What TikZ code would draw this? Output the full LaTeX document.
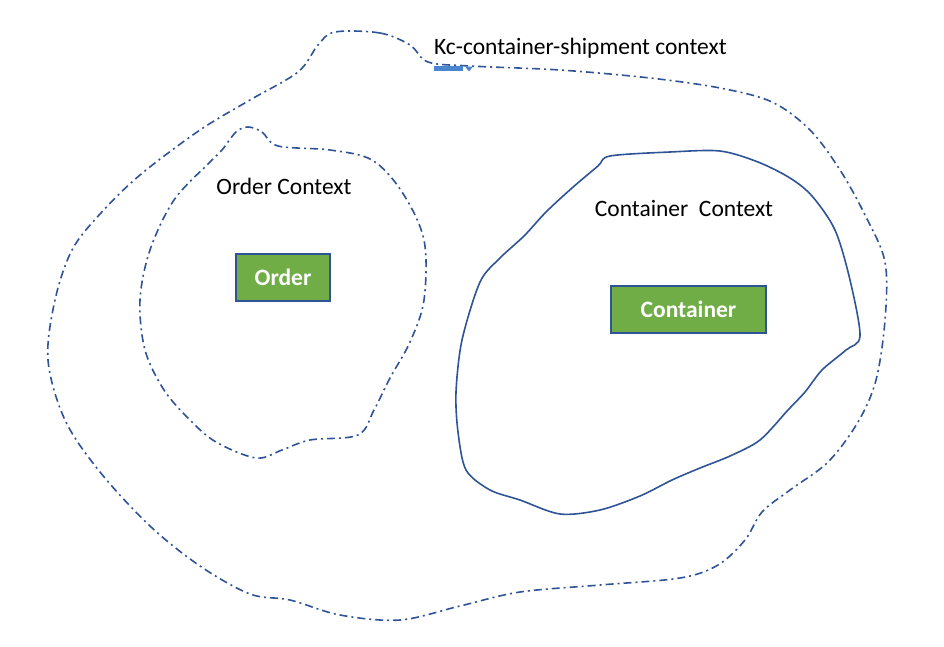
\documentclass[tikz,border=0pt]{standalone}
\usepackage{fontspec}
\setmainfont{Carlito}
\definecolor{LoopBlue}{HTML}{2F5496}
\definecolor{BoxGreen}{HTML}{70AD47}
\definecolor{MarkBlue}{HTML}{4A86D0}

\tikzset{
  dashdot/.style={color=LoopBlue, line width=1.6, dash pattern=on 8pt off 4pt on 2pt off 4pt},
  entity/.style={draw=LoopBlue, line width=2, fill=BoxGreen, text=white, font=\fontsize{23.5}{23.5}\selectfont\bfseries, inner sep=0pt},
  ctxlabel/.style={font=\fontsize{23.5}{23.5}\selectfont}
}

\begin{document}
\begin{tikzpicture}[x=1pt, y=-1pt]

 \useasboundingbox (0,0) rectangle (944,646);

 %%%%%%%%%% Outer context %%%%%%%%%%
 \draw [dashdot] plot[smooth cycle, tension=0.55] coordinates {
   (335,32) (380,33) (410,45) (428,62) (470,66) (560,70) (650,78) (720,88)
   (772,102) (810,130) (840,170) (865,215) (885,262) (885,320) (876,380)
   (858,422) (828,462) (790,490) (762,512) (745,540) (718,565) (680,578)
   (600,585) (520,592) (460,606) (400,620) (340,615) (290,600) (250,594)
   (200,566) (150,526) (100,472) (65,420) (48,360) (55,300) (72,250)
   (100,214) (140,175) (200,130) (250,100) (298,72) (318,45) };

 %%%%%%%%%% Order context %%%%%%%%%%
 \draw [dashdot] plot[smooth cycle, tension=0.55] coordinates {
   (248,127) (262,132) (278,146) (330,150) (372,160) (402,192) (424,240)
   (424,300) (410,342) (390,378) (374,410) (358,435) (310,440) (282,450)
   (256,458) (216,442) (190,420) (164,390) (145,350) (140,300) (150,250)
   (174,200) (210,162) (222,150) (236,132) };

 %%%%%%%%%% Container context %%%%%%%%%%
 \draw [color=LoopBlue, line width=1.6] plot[smooth cycle, tension=0.5] coordinates {
   (610,156) (670,152) (720,151) (758,162) (790,178) (812,196) (835,230)
   (850,280) (860,336) (846,350) (822,370) (805,392) (788,410) (760,440)
   (730,456) (700,468) (672,480) (640,496) (600,510) (560,514) (520,500)
   (490,490) (466,470) (458,432) (456,392) (462,340) (480,282) (500,258)
   (524,236) (546,212) (572,188) (598,166) };

 %%%%%%%%%% Small marker %%%%%%%%%%
 \fill [color=MarkBlue] (434,66) rectangle (463,71);
 \fill [color=MarkBlue] (465,66.5) -- (473,66.5) -- (469,71.5) -- cycle;

 %%%%%%%%%% Labels %%%%%%%%%%
 \node [ctxlabel, anchor=west, inner sep=0pt] (outerlabel) at (434,48) {Kc-container-shipment context};
 \node [ctxlabel] (orderlabel) at (284,186) {Order Context};
 \node [ctxlabel] (containerlabel) at (684,208) {Container\ \ Context};

 %%%%%%%%%% Entities %%%%%%%%%%
 \node [entity, minimum width=94, minimum height=47] (order) at (283,277) {Order};
 \node [entity, minimum width=155, minimum height=47] (container) at (688.5,309) {Container};

\end{tikzpicture}
\end{document}
